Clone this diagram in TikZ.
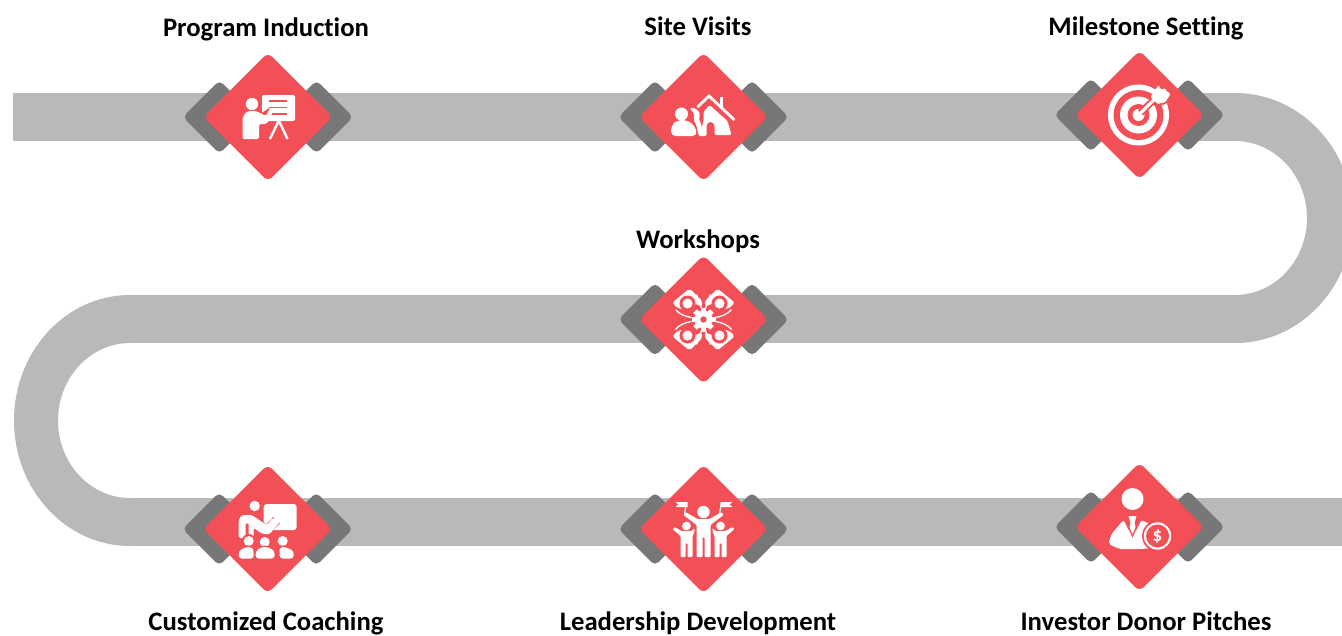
\documentclass[tikz,border=0pt]{standalone}
\usepackage{fontspec}
\setmainfont[Ligatures=NoCommon]{Carlito}
\usetikzlibrary{shapes.geometric}
\definecolor{stationred}{HTML}{F25056}
\definecolor{wingdark}{HTML}{777777}
\definecolor{roadgrey}{HTML}{B9B9B9}
\tikzset{
  road/.style={roadgrey,line width=48pt},
  wing/.style={diamond,fill=wingdark,inner sep=0pt,minimum size=73.5pt,rounded corners=5pt},
  station/.style={diamond,fill=stationred,inner sep=0pt,minimum size=129pt,rounded corners=6pt},
  caption/.style={font=\bfseries\fontsize{26.7}{30}\selectfont,text=black,inner sep=0pt,anchor=base},
  ink/.style={fill=white,draw=none},
  gap/.style={draw=stationred,line width=2pt}
}

\newcommand{\stationat}[3]{
  \node[wing] (#1l) at (#2-48.5,#3) {};
  \node[wing] (#1r) at (#2+48.5,#3) {};
  \node[station] (#1) at (#2,#3) {};
}

\begin{document}
\begin{tikzpicture}[x=1pt,y=-1pt]

\useasboundingbox (0,0) rectangle (1342,635);
\clip (0,0) rectangle (1342,635);

\coordinate (roadstart) at (13,117);
\coordinate (roadend) at (1342,522);
\coordinate (bendtop) at (1235,117);
\coordinate (bendright) at (1235,319);
\coordinate (bendleft) at (130,319);
\coordinate (bendlow) at (130,522);
\draw[road] (roadstart) -- (bendtop);
\draw[road] (bendright) -- (bendleft);
\draw[road] (bendlow) -- (roadend);
\fill[roadgrey] (1235,93) arc[start angle=-90,end angle=90,x radius=118,y radius=125] -- (1235,295) arc[start angle=90,end angle=-90,x radius=72,y radius=77] -- cycle;
\fill[roadgrey] (130,295) arc[start angle=270,end angle=90,x radius=116,y radius=125.5] -- (130,498) arc[start angle=90,end angle=270,x radius=72,y radius=77.5] -- cycle;

\stationat{induction}{268}{117}
\stationat{visits}{703.5}{117}
\stationat{milestone}{1139.5}{115}
\stationat{workshops}{703.5}{319.5}
\stationat{coaching}{267.7}{529}
\stationat{leadership}{703.5}{529}
\stationat{pitches}{1139.5}{527}

\node[caption] (inductiontext) at (266,36) {Program Induction};
\node[caption] (visitstext) at (698,35) {Site Visits};
\node[caption] (milestonetext) at (1146,35) {Milestone Setting};
\node[caption] (workshopstext) at (698,248) {Workshops};
\node[caption] (coachingtext) at (266,630) {Customized Coaching};
\node[caption] (leadershiptext) at (698,630) {Leadership Development};
\node[caption] (pitchestext) at (1146,630) {Investor Donor Pitches};

\begin{scope}[shift={(induction.center)}]
\fill[ink,rounded corners=2pt] (-6,-22) rectangle (27,4);
\foreach \yy in {-16,-9.5,-3} \draw[stationred,line width=1.6pt] (1,\yy) -- (19,\yy);
\draw[white,line width=2.4pt] (10.5,4) -- (2,22) (11,4) -- (19.5,22);
\fill[ink] (-16,-13) circle (6.2);
\draw[gap,line width=7pt] (-12,4) -- (3,-6);
\fill[ink,rounded corners=2pt] (-25.5,22) -- (-25.5,0) -- (-21,-6) -- (-12,-6) -- (-2,-1) -- (2,-9) -- (5.5,-7) -- (-1,7) -- (-9,7) -- (-9,22) -- cycle;
\end{scope}

\begin{scope}[shift={(visits.center)}]
\fill[ink,rounded corners=5pt] (-33,19) -- (-32,8) -- (-26,3) -- (-17,3) -- (-9,8) -- (-6,19) -- cycle;
\fill[ink] (-22,-3) circle (6.5);
\fill[ink,rounded corners=2pt] (-14,-9) -- (-8,-9) -- (-3,-3) -- (-5,2) -- (-2,7) -- (-2,19) -- (-5,19) -- (-7,8) -- (-10,3) -- (-9,-3) -- cycle;
\fill[ink,rounded corners=1.5pt] (-5,19) -- (0,5) -- (0,-5) -- (6,-12) -- (24,4) -- (28,18) -- (11,18) -- (11,8) -- (9,5) -- (5,5) -- (3,8) -- (3,19) -- cycle;
\draw[stationred,line width=2pt] (-5,-7) -- (5,-18) -- (29,5);
\draw[white,line width=2.8pt] (-6,-10) -- (5.5,-21) -- (31,3);
\draw[white,line width=2.8pt] (18,-20) -- (18,-9);
\end{scope}

\begin{scope}[shift={(milestone.center)}]
\fill[ink] (-1,0) circle (30.5);
\fill[stationred] (-1,0) circle (25);
\fill[ink] (-1,0) circle (18.5);
\fill[stationred] (-1,0) circle (11);
\fill[ink] (-1,0) circle (6);
\draw[stationred,line width=7pt] (1,-2) -- (20,-21);
\fill[stationred] (14,-16) -- (19,-33) -- (33,-21) -- (26,-11) -- (18,-9) -- cycle;
\draw[white,line width=3.2pt] (-1,0) -- (17,-18);
\fill[ink,rounded corners=1pt] (11,-18) -- (19,-30) -- (22,-25) -- (25,-27) -- (27,-24) -- (31,-21) -- (26,-13) -- (18,-11) -- cycle;
\end{scope}

\begin{scope}[shift={(workshops.center)}]
\foreach \aa in {0,45,...,315} \fill[ink,rotate=\aa] (-2.5,-12) rectangle (2.5,-6);
\fill[ink] (0,0) circle (9);
\fill[stationred] (0,0) circle (3.2);
\foreach \sx/\sy in {1/1,-1/1,1/-1,-1/-1}{
  \begin{scope}[xscale=\sx,yscale=\sy]
  \fill[ink,rounded corners=2pt] (-31,-17) -- (-14,-31) -- (-1,-18) -- (-2,-13) -- (-9,-16) -- (-17,-9) -- (-27,-12) -- cycle;
  \fill[stationred] (-16,-16) circle (8);
  \fill[ink] (-16,-16) circle (5);
  \draw[white,line width=1.3pt] (-28,-10) .. controls (-24,-5) and (-18,-3) .. (-12,-2);
  \draw[white,line width=1.3pt] (-7,-25) .. controls (-5,-20) and (-3,-15) .. (-2,-11);
  \end{scope}
}
\end{scope}

\begin{scope}[shift={(coaching.center)}]
\fill[ink,rounded corners=3pt] (-4,-25) rectangle (29,1);
\fill[ink] (-13,-23) circle (5.2);
\draw[gap,line width=9pt] (-12,-7) -- (-1,1) -- (9,-9);
\fill[ink,rounded corners=1.5pt] (-29,9) -- (-29,-9) -- (-26,-14) -- (-16,-14) -- (-1,-4) -- (5,-11) -- (12,-11) -- (12,-7) -- (2,5) -- (-5,5) -- (-14,-1) -- (-14,9) -- (-19,9) -- (-19,-6) -- (-22,-6) -- (-22,9) -- cycle;
\foreach \hx/\hy/\bl/\br in {-19/12/-29/-14,-3/13/-12/7,15/12/12/26}{
  \fill[stationred] (\hx,\hy) circle (7);
  \fill[ink] (\hx,\hy) circle (5);
  \fill[stationred,rounded corners=3pt] (\bl-1.5,30) -- (\bl-1.5,20) -- (\hx-3,16.5) -- (\hx+3,16.5) -- (\br+1.5,20) -- (\br+1.5,30) -- cycle;
  \fill[ink,rounded corners=3pt] (\bl,29.5) -- (\bl,22) -- (\hx-3,18) -- (\hx+3,18) -- (\br,22) -- (\br,29.5) -- cycle;
}
\end{scope}

\begin{scope}[shift={(leadership.center)}]
\fill[ink] (0,-17) circle (6.2);
\fill[ink,rounded corners=1pt] (-20,-14) -- (-18,-17) -- (-6,-10) -- (6,-10) -- (18,-17) -- (20,-14) -- (7,-4) -- (7,28) -- (1,28) -- (1,8) -- (-1,8) -- (-1,28) -- (-7,28) -- (-7,-4) -- cycle;
\draw[white,line width=1.2pt] (-17,-27) -- (-19,-15) (18,-27) -- (16,-15);
\fill[ink] (-28,-27) -- (-16,-27) -- (-16,-22) -- (-28,-22) -- (-25,-24.5) -- cycle;
\fill[ink] (17,-27) -- (29,-27) -- (26,-24.5) -- (29,-22) -- (17,-22) -- cycle;
\foreach \sx in {1,-1}{
  \begin{scope}[xscale=\sx]
  \fill[ink] (-17,-3) circle (4.4);
  \fill[ink,rounded corners=1pt] (-31,0) -- (-29,-2) -- (-22,2) -- (-12,2) -- (-9,-1) -- (-9,3) -- (-11,7) -- (-11,28) -- (-16,28) -- (-16,14) -- (-18,14) -- (-18,28) -- (-23,28) -- (-23,7) -- cycle;
  \end{scope}
}
\end{scope}

\begin{scope}[shift={(pitches.center)}]
\fill[ink] (-7,-28) circle (11);
\fill[ink,rounded corners=2pt] (-31,17) -- (-28,7) -- (-16,-7) -- (-8,9) -- (-6,9) -- (2,-7) -- (10,-3) -- (16,4) -- (16,21) -- (0,22) -- (-20,22) -- cycle;
\fill[ink] (-11,-11) -- (-3,-11) -- (-5,-4) -- (-3,4) -- (-7,10) -- (-11,4) -- (-9,-4) -- cycle;
\draw[stationred,line width=1.3pt] (-15,-9) -- (-7,9) -- (1,-9);
\fill[stationred] (18,9) circle (15.5);
\fill[ink] (18,9) circle (13.7);
\fill[stationred] (18,9) circle (11.5);
\node[text=white,font=\bfseries\fontsize{19}{19}\selectfont,inner sep=0pt] (dollar) at (18,9) {\$};
\end{scope}

\end{tikzpicture}
\end{document}
